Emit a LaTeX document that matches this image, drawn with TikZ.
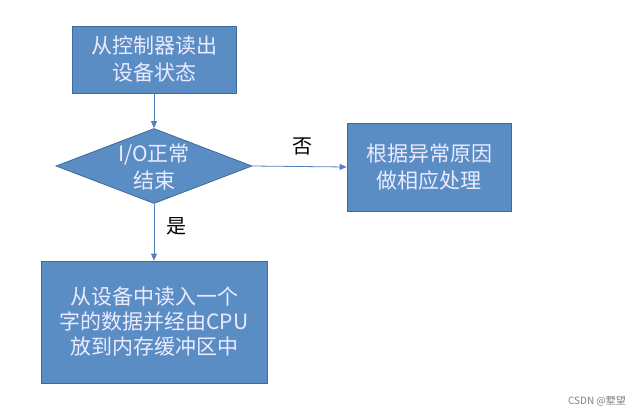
\documentclass[tikz,border=0pt]{standalone}
\usepackage{fontspec}
\setmainfont{Noto Sans CJK SC}
\usetikzlibrary{arrows.meta,shapes.geometric}
\definecolor{boxfill}{HTML}{5B8DC5}
\definecolor{boxline}{HTML}{3E6A99}
\definecolor{arrowc}{HTML}{4F81BD}
\tikzset{
  procbox/.style={draw=boxline, line width=0.8pt, fill=boxfill, text=white!92!blue, align=center, font=\fontsize{21}{27}\selectfont, inner sep=0pt},
  decision/.style={diamond, draw=boxline, line width=0.8pt, fill=boxfill, text=white!92!blue, align=center, font=\fontsize{21}{27}\selectfont, inner sep=0pt, aspect=2.6},
  flow/.style={draw=arrowc, line width=0.8pt, -{Triangle[length=7pt,width=6pt]}},
  lbl/.style={font=\fontsize{20}{22}\selectfont, text=black}
}
\begin{document}
\begin{tikzpicture}[x=1pt,y=-1pt]
\useasboundingbox (0,0) rectangle (644,416);
\node[procbox, minimum width=164pt, minimum height=67pt] (read) at (154,59.5) {从控制器读出\\设备状态};
\node[decision, minimum width=196pt, minimum height=75pt] (io) at (154,166) {};
\node[text=white!92!blue, align=center, font=\fontsize{21}{27}\selectfont] (iotext) at (154,167) {I/O正常\\结束};
\node[procbox, minimum width=164pt, minimum height=88pt] (err) at (429,167) {根据异常原因\\做相应处理};
\node[procbox, minimum width=226pt, minimum height=122pt, font=\fontsize{21}{25}\selectfont] (data) at (154,322) {从设备中读入一个\\字的数据并经由CPU\\放到内存缓冲区中};
\draw[flow] (read.south) -- (io.north);
\draw[flow] (io.east) -- (err.west);
\draw[flow] (io.south) -- (data.north);
\node[lbl] (no) at (302,146) {否};
\node[lbl] (yes) at (176,226) {是};
\node[font=\fontsize{10}{12}\selectfont, text=gray] (wm) at (597,401) {CSDN @墅望};
\end{tikzpicture}
\end{document}
